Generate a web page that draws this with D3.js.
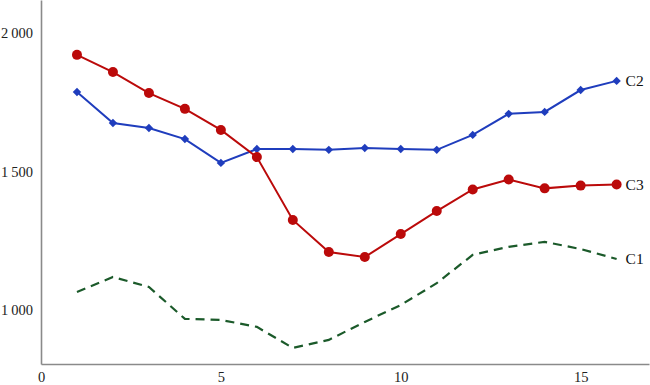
<!DOCTYPE html>
<html><head><meta charset="utf-8">
<script src="https://cdn.jsdelivr.net/npm/d3@7"></script>
<style>body{margin:0;background:#fff}svg{display:block}</style>
</head><body>
<script>
const xs = [1,2,3,4,5,6,7,8,9,10,11,12,13,14,15,16];
const c1 = [1065,1119,1083,968,964,939,863,892,957,1018,1097,1199,1228,1246,1220,1184];
const c2 = [1787,1675,1657,1617,1531,1581,1581,1578,1585,1581,1578,1632,1708,1715,1794,1827];
const c3 = [1921,1859,1783,1726,1650,1552,1325,1209,1191,1274,1357,1435,1471,1439,1449,1453];
const xTicks = [0,5,10,15];
const yTicks = [1000,1500,2000];
const names = ["C1","C2","C3"];

const W = 650, H = 385;
const svg = d3.select("body").append("svg").attr("width", W).attr("height", H);
const x = d3.scaleLinear().domain([0,16.9]).range([41,649]);
const y = d3.scaleLinear().domain([805,2119]).range([364,0]);
const fmt = v => d3.format(",")(v).replace(",", "\u2009");

// axes
const xAxis = svg.append("g").attr("transform","translate(0,364)")
  .call(d3.axisBottom(x).tickValues(xTicks).tickSize(0).tickPadding(8).tickFormat(d3.format("d")));
const yAxis = svg.append("g").attr("transform","translate(41,0)")
  .call(d3.axisLeft(y).tickValues(yTicks).tickSize(0).tickPadding(8).tickFormat(fmt));
[xAxis,yAxis].forEach(g=>{
  g.select(".domain").attr("stroke","#8a8a8a").attr("stroke-width",1.6);
  g.selectAll("text").attr("font-family","Liberation Serif, Times New Roman, serif").attr("font-size",14.5).attr("fill","#222");
});

const line = d3.line().x((d,i)=>x(xs[i])).y(d=>y(d));
const col = {C1:"#1b5a2a", C2:"#1f3dbd", C3:"#bb0a0a"};

svg.append("path").datum(c1).attr("d",line).attr("fill","none")
  .attr("stroke",col.C1).attr("stroke-width",2.2).attr("stroke-dasharray","9,6");
svg.append("path").datum(c2).attr("d",line).attr("fill","none")
  .attr("stroke",col.C2).attr("stroke-width",2);
svg.append("path").datum(c3).attr("d",line).attr("fill","none")
  .attr("stroke",col.C3).attr("stroke-width",2);

svg.selectAll(".dm").data(c2).join("path").attr("class","dm")
  .attr("d", d3.symbol().type(d3.symbolDiamond2).size(45))
  .attr("transform",(d,i)=>`translate(${x(xs[i])},${y(d)})`).attr("fill",col.C2);
svg.selectAll(".ci").data(c3).join("circle").attr("class","ci")
  .attr("cx",(d,i)=>x(xs[i])).attr("cy",d=>y(d)).attr("r",5).attr("fill",col.C3);

// labels
const last = xs.length-1;
[["C1",c1],["C2",c2],["C3",c3]].forEach(([n,arr])=>{
  svg.append("text").attr("x", x(xs[last])+9).attr("y", y(arr[last])).attr("dy","0.35em")
    .attr("font-family","Liberation Serif, Times New Roman, serif").attr("font-size",15.5)
    .attr("fill","#111").text(n);
});
</script>
</body></html>
